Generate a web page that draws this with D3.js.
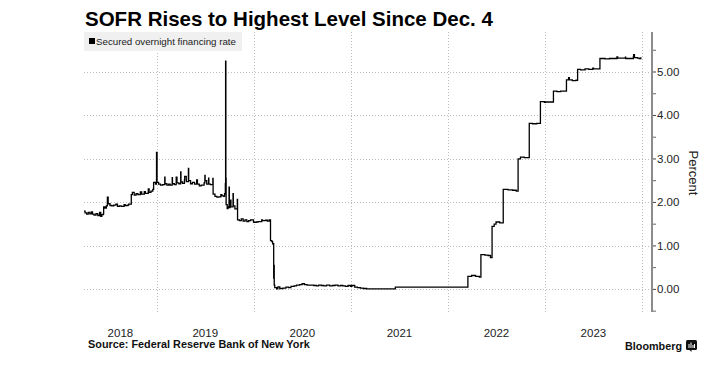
<!DOCTYPE html>
<html>
<head>
<meta charset="utf-8">
<script src="https://cdn.jsdelivr.net/npm/d3@7"></script>
<style>
  body { margin: 0; background: #fff; }
  svg { display: block; font-family: "Liberation Sans", Arial, sans-serif; }
</style>
</head>
<body>
<svg id="chart" width="727" height="374"></svg>
<script>
// SOFR daily fixings (step changes and spikes kept)
const rates2018 = [
  ["2018-04-02",1.80],["2018-04-06",1.76],["2018-04-12",1.73],["2018-04-18",1.77],["2018-04-24",1.74],["2018-04-30",1.78],
  ["2018-05-04",1.73],["2018-05-10",1.71],["2018-05-17",1.74],["2018-05-24",1.70],["2018-05-31",1.77],["2018-06-04",1.68],
  ["2018-06-08",1.72],["2018-06-14",1.74],["2018-06-15",1.90],["2018-06-20",1.87],["2018-06-25",1.92],["2018-06-29",2.12],
  ["2018-07-02",1.97],["2018-07-09",1.93],["2018-07-16",1.92],["2018-07-23",1.94],["2018-07-31",1.96],["2018-08-06",1.91],
  ["2018-08-13",1.92],["2018-08-20",1.91],["2018-08-31",1.95],["2018-09-04",1.93],["2018-09-14",1.94],["2018-09-17",1.96],
  ["2018-09-27",2.18],["2018-10-01",2.23],["2018-10-08",2.17],["2018-10-15",2.20],["2018-10-22",2.18],["2018-10-31",2.24],
  ["2018-11-05",2.19],["2018-11-15",2.25],["2018-11-19",2.21],["2018-11-30",2.31],["2018-12-03",2.23],["2018-12-10",2.26],
  ["2018-12-17",2.30],["2018-12-20",2.46],["2018-12-27",2.42],["2018-12-31",3.15]
];
const rates2019 = [
  ["2019-01-02",2.46],["2019-01-08",2.42],["2019-01-15",2.40],["2019-01-23",2.41],["2019-01-31",2.58],["2019-02-01",2.43],
  ["2019-02-08",2.40],["2019-02-15",2.42],["2019-02-20",2.40],["2019-02-28",2.57],["2019-03-01",2.43],["2019-03-08",2.41],
  ["2019-03-15",2.58],["2019-03-18",2.45],["2019-03-25",2.43],["2019-04-01",2.70],["2019-04-02",2.47],["2019-04-08",2.44],
  ["2019-04-15",2.52],["2019-04-16",2.60],["2019-04-22",2.48],["2019-04-30",2.78],["2019-05-01",2.50],["2019-05-08",2.43],
  ["2019-05-15",2.46],["2019-05-23",2.42],["2019-05-31",2.52],["2019-06-03",2.42],["2019-06-10",2.38],["2019-06-17",2.40],
  ["2019-06-28",2.45],["2019-07-01",2.62],["2019-07-02",2.50],["2019-07-08",2.42],["2019-07-15",2.56],["2019-07-16",2.42],
  ["2019-07-22",2.41],["2019-07-31",2.55],["2019-08-01",2.19],["2019-08-08",2.14],["2019-08-15",2.12],["2019-08-22",2.13],
  ["2019-08-30",2.18],["2019-09-03",2.15],["2019-09-10",2.14],["2019-09-13",2.20],["2019-09-16",2.43],["2019-09-17",5.25],
  ["2019-09-18",2.55],["2019-09-19",1.95],["2019-09-23",1.86],["2019-09-26",1.90],["2019-09-30",2.35],["2019-10-01",1.88],
  ["2019-10-04",2.05],["2019-10-07",1.90],["2019-10-15",2.20],["2019-10-16",1.92],["2019-10-22",1.85],["2019-10-31",2.07],
  ["2019-11-01",1.60],["2019-11-08",1.58],["2019-11-15",1.62],["2019-11-22",1.57],["2019-11-29",1.60],["2019-12-06",1.56],
  ["2019-12-13",1.58],["2019-12-20",1.60],["2019-12-31",1.55]
];
const rates2020 = [
  ["2020-01-02",1.54],["2020-01-10",1.55],["2020-01-17",1.56],["2020-01-31",1.60],["2020-02-03",1.58],["2020-02-14",1.59],
  ["2020-02-21",1.57],["2020-02-28",1.60],["2020-03-04",1.12],["2020-03-09",1.10],["2020-03-12",1.05],["2020-03-16",0.26],
  ["2020-03-17",0.55],["2020-03-18",0.10],["2020-03-20",0.04],["2020-03-27",0.01],["2020-04-01",0.06],["2020-04-08",0.02],
  ["2020-04-20",0.03],["2020-05-01",0.05],["2020-05-11",0.04],["2020-05-20",0.07],["2020-06-01",0.08],["2020-06-10",0.10],
  ["2020-06-22",0.11],["2020-07-01",0.13],["2020-07-10",0.11],["2020-07-20",0.10],["2020-08-03",0.10],["2020-08-14",0.09],
  ["2020-08-24",0.08],["2020-09-01",0.10],["2020-09-11",0.09],["2020-09-21",0.08],["2020-10-01",0.10],["2020-10-13",0.08],
  ["2020-10-23",0.09],["2020-11-02",0.10],["2020-11-13",0.08],["2020-11-23",0.09],["2020-12-01",0.08],["2020-12-11",0.07],
  ["2020-12-21",0.09],["2020-12-31",0.07]
];
const rates2021 = [
  ["2021-01-04",0.09],["2021-01-15",0.05],["2021-01-25",0.04],["2021-02-05",0.03],["2021-02-16",0.02],["2021-03-01",0.01],
  ["2021-04-01",0.01],["2021-05-03",0.01],["2021-06-01",0.01],["2021-06-17",0.05],["2021-09-30",0.05],["2021-12-31",0.05]
];
const rates2022 = [
  ["2022-01-03",0.05],["2022-03-17",0.30],["2022-03-31",0.32],["2022-04-15",0.30],["2022-04-29",0.28],["2022-05-05",0.80],
  ["2022-05-20",0.79],["2022-06-01",0.78],["2022-06-10",0.73],["2022-06-16",1.45],["2022-06-24",1.50],["2022-07-01",1.55],
  ["2022-07-15",1.53],["2022-07-28",2.30],["2022-08-15",2.29],["2022-09-01",2.28],["2022-09-15",2.26],["2022-09-22",3.00],
  ["2022-10-01",3.04],["2022-10-15",3.03],["2022-11-03",3.82],["2022-11-15",3.81],["2022-12-01",3.82],["2022-12-15",4.32],
  ["2022-12-30",4.30]
];
const rates2023 = [
  ["2023-01-03",4.31],["2023-02-02",4.56],["2023-02-15",4.55],["2023-03-01",4.56],["2023-03-23",4.82],["2023-03-31",4.87],
  ["2023-04-03",4.82],["2023-04-14",4.80],["2023-04-28",4.81],["2023-05-04",5.06],["2023-05-15",5.05],["2023-06-01",5.07],
  ["2023-06-15",5.06],["2023-06-30",5.09],["2023-07-03",5.07],["2023-07-27",5.31],["2023-08-15",5.30],["2023-09-01",5.31],
  ["2023-09-29",5.35],["2023-10-02",5.32],["2023-10-31",5.34],["2023-11-01",5.31],["2023-11-30",5.36],["2023-12-01",5.40],
  ["2023-12-04",5.33],["2023-12-15",5.32],["2023-12-22",5.31],["2023-12-28",5.34]
];

const yTicks = [0, 1, 2, 3, 4, 5];
const yMinorTicks = [-0.5, 0.5, 1.5, 2.5, 3.5, 4.5, 5.5];
const yearLabels = ["2018", "2019", "2020", "2021", "2022", "2023"];
const yearBreaks = ["2019-01-01", "2020-01-01", "2021-01-01", "2022-01-01", "2023-01-01", "2024-01-01"];
const xStart = "2018-04-02", xEnd = "2024-02-08";

const parse = d3.timeParse("%Y-%m-%d");
const sofr = [].concat(rates2018, rates2019, rates2020, rates2021, rates2022, rates2023)
  .map(([d, v]) => ({ date: parse(d), value: v }));

const svg = d3.select("#chart");
const plot = { left: 84, right: 652, top: 32, bottom: 312 };

const x = d3.scaleTime().domain([parse(xStart), parse(xEnd)]).range([plot.left, plot.right]);
const y = d3.scaleLinear().domain([-0.52, 5.92]).range([plot.bottom, plot.top]);

// fit a text element to a target width by scaling its font size
function fitWidth(sel, target) {
  const fs = parseFloat(sel.attr("font-size"));
  const w = sel.node().getComputedTextLength();
  sel.attr("font-size", (fs * target / w).toFixed(2));
}

// gridlines (light dotted)
svg.append("g").selectAll("line").data(yTicks).join("line")
  .attr("x1", plot.left).attr("x2", plot.right)
  .attr("y1", d => Math.round(y(d)) + 0.5).attr("y2", d => Math.round(y(d)) + 0.5)
  .attr("stroke", "#bdbdbd").attr("stroke-width", 1).attr("stroke-dasharray", "1 2");

svg.append("g").selectAll("line").data(yearBreaks.map(parse)).join("line")
  .attr("x1", d => Math.round(x(d)) + 0.5).attr("x2", d => Math.round(x(d)) + 0.5)
  .attr("y1", plot.top).attr("y2", plot.bottom)
  .attr("stroke", "#bdbdbd").attr("stroke-width", 1).attr("stroke-dasharray", "1 2");

// legend
svg.append("rect").attr("x", 84).attr("y", 32).attr("width", 158).attr("height", 19).attr("fill", "#f0f0f0");
svg.append("rect").attr("x", 89).attr("y", 38).attr("width", 6).attr("height", 6).attr("fill", "#000");
const leg = svg.append("text").attr("x", 96).attr("y", 45).attr("font-size", 10).attr("fill", "#222")
  .text("Secured overnight financing rate");
fitWidth(leg, 140);

// line
const line = d3.line().x(d => x(d.date)).y(d => y(d.value)).curve(d3.curveStepAfter);
svg.append("path").datum(sofr)
  .attr("fill", "none").attr("stroke", "#000").attr("stroke-width", 1.3)
  .attr("stroke-linejoin", "miter").attr("d", line);

// right axis
const yAxis = svg.append("g").attr("transform", `translate(${plot.right},0)`);
yAxis.append("line").attr("y1", plot.top).attr("y2", plot.bottom).attr("stroke", "#8c8c8c").attr("stroke-width", 2);
yAxis.selectAll(".minor").data(yMinorTicks).join("line").attr("class", "minor")
  .attr("x1", 1).attr("x2", 4).attr("y1", d => y(d)).attr("y2", d => y(d)).attr("stroke", "#666");
yAxis.selectAll(".major").data(yTicks).join("line").attr("class", "major")
  .attr("x1", 1).attr("x2", 4).attr("y1", d => y(d)).attr("y2", d => y(d)).attr("stroke", "#444");
yAxis.selectAll("text").data(yTicks).join("text")
  .attr("x", 5).attr("y", d => y(d) + 4).attr("font-size", 11.5).attr("fill", "#222")
  .text(d => d3.format(".2f")(d));

svg.append("text").attr("transform", "translate(689,173) rotate(90)")
  .attr("text-anchor", "middle").attr("font-size", 13).attr("fill", "#222").text("Percent");

// year labels centred in each visible year span
const bounds = [parse(xStart)].concat(yearBreaks.map(parse));
svg.append("g").selectAll("text").data(yearLabels).join("text")
  .attr("x", (d, i) => (x(bounds[i]) + x(bounds[i + 1])) / 2)
  .attr("y", 337).attr("text-anchor", "middle").attr("font-size", 11.5).attr("fill", "#222")
  .text(d => d);

// title and footer
const title = svg.append("text").attr("x", 85).attr("y", 26).attr("font-size", 21)
  .attr("font-weight", "bold").attr("fill", "#000").text("SOFR Rises to Highest Level Since Dec. 4");
fitWidth(title, 408);

const src = svg.append("text").attr("x", 88).attr("y", 348).attr("font-size", 10)
  .attr("font-weight", "bold").attr("fill", "#111").text("Source: Federal Reserve Bank of New York");
fitWidth(src, 222);

const brand = svg.append("text").attr("x", 625).attr("y", 350).attr("font-size", 12)
  .attr("font-weight", "bold").attr("fill", "#111").text("Bloomberg");
fitWidth(brand, 57);

const logo = svg.append("g").attr("transform", "translate(686,340)");
logo.append("rect").attr("width", 11).attr("height", 10).attr("rx", 1.5).attr("fill", "#111");
logo.append("path").attr("d", "M3.5,10 L5.5,12 L5.5,10 Z").attr("fill", "#111");
[[2.5, 4, 4], [4.5, 2.5, 5.5], [6.5, 5, 3], [8, 4, 4]].forEach(([bx, by, bh]) =>
  logo.append("rect").attr("x", bx).attr("y", by).attr("width", 1).attr("height", bh).attr("fill", "#fff"));
</script>
</body>
</html>
